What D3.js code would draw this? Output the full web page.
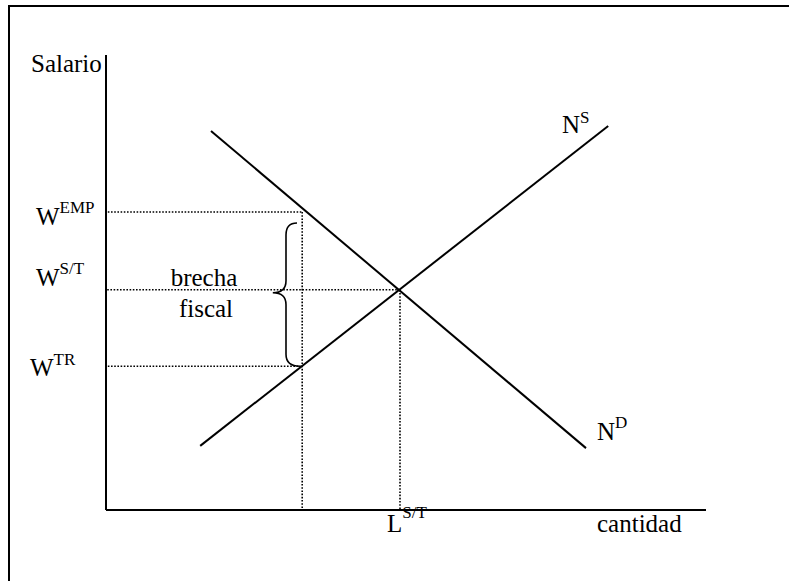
<!DOCTYPE html>
<html>

<head>
  <meta http-equiv="Content-Type" content="text/html;charset=utf-8" />
  <style type="text/css">
    body { margin: 0; background: #fff; }
    svg text { font-family: "Liberation Serif", Tinos, "DejaVu Serif", "Noto Serif", Times, serif; }
    .guide {
      stroke: #000;
      stroke-width: 1.6;
      stroke-dasharray: 1.6 1.6;
      fill: none;
    }
    .curve { stroke: #000; stroke-width: 2; fill: none; }
  </style>
</head>

<body>
  <div id="svgContainer"></div>
  <script src="https://d3js.org/d3.v7.min.js"></script>

  <script type="text/javascript">
    var w = 789;
    var h = 581;

    // curves, in diagram units (0-100 on each axis)
    var demand = [[17.5, 83.3], [80, 13.6]];
    var supply = [[15.7, 14.1], [83.7, 84.4]];
    // wage levels
    var wEmp = 65.5;
    var wST = 48.4;
    var wTR = 31.6;
    // quantities
    var lTax = 32.7;
    var lST = 49;

    var svg = d3.select("#svgContainer")
      .append("svg")
      .attr("width", w)
      .attr("height", h);

    var xScale = d3.scaleLinear().domain([0, 100]).range([106, 706]);
    var yScale = d3.scaleLinear().domain([0, 100]).range([510, 55]);

    // outer frame (cut off on the right and bottom)
    svg.append("rect")
      .attr("x", 9).attr("y", 6)
      .attr("width", 800).attr("height", 600)
      .attr("fill", "none")
      .attr("stroke", "#000")
      .attr("stroke-width", 2);

    // axes
    svg.append("line").attr("class", "curve")
      .attr("x1", xScale(0)).attr("y1", yScale(100))
      .attr("x2", xScale(0)).attr("y2", yScale(0));
    svg.append("line").attr("class", "curve")
      .attr("x1", xScale(0)).attr("y1", yScale(0))
      .attr("x2", xScale(100)).attr("y2", yScale(0));

    var line = d3.line()
      .x(function (d) { return xScale(d[0]); })
      .y(function (d) { return yScale(d[1]); });

    // dotted guides
    var guides = [
      [[0.3, wEmp], [lTax, wEmp]],
      [[0.2, wST], [lST, wST]],
      [[0.3, wTR], [lTax, wTR]],
      [[lTax, wEmp], [lTax, 0]],
      [[lST, wST], [lST, 0]]
    ];
    svg.selectAll(".guide")
      .data(guides)
      .enter()
      .append("path")
      .attr("class", "guide")
      .attr("d", line);

    svg.append("path").attr("class", "curve").attr("d", line(demand));
    svg.append("path").attr("class", "curve").attr("d", line(supply));

    // brace for the tax wedge
    var bx = xScale(30), tip = xScale(27.8);
    var bTop = yScale(wEmp) + 11, bMid = yScale(wST) + 3, bBot = yScale(wTR);
    svg.append("path")
      .attr("d", "M" + (bx + 11) + "," + bTop +
        " Q" + bx + "," + bTop + " " + bx + "," + (bTop + 12) +
        " L" + bx + "," + (bMid - 12) +
        " Q" + bx + "," + bMid + " " + tip + "," + bMid +
        " Q" + bx + "," + bMid + " " + bx + "," + (bMid + 12) +
        " L" + bx + "," + (bBot - 12) +
        " Q" + bx + "," + bBot + " " + (bx + 14) + "," + bBot)
      .attr("fill", "none")
      .attr("stroke", "#000")
      .attr("stroke-width", 1.6);

    function label(x, y, main, sup, dy) {
      var t = svg.append("text")
        .attr("x", x).attr("y", y)
        .style("font-size", "25px")
        .text(main);
      if (sup) {
        t.append("tspan")
          .style("font-size", "17px")
          .attr("dy", dy || -12)
          .text(sup);
      }
    }

    label(31, 72, "Salario");
    label(36, 225, "W", "EMP");
    label(36, 286, "W", "S/T");
    label(30, 376, "W", "TR", -11);
    label(562, 133, "N", "S", -10);
    label(597, 440, "N", "D");
    label(387, 532, "L", "S/T", -14);
    label(597, 532, "cantidad");

    svg.append("text").attr("x", 204).attr("y", 286)
      .style("font-size", "25px").attr("text-anchor", "middle").text("brecha");
    svg.append("text").attr("x", 206).attr("y", 317)
      .style("font-size", "25px").attr("text-anchor", "middle").text("fiscal");
  </script>
</body>

</html>
